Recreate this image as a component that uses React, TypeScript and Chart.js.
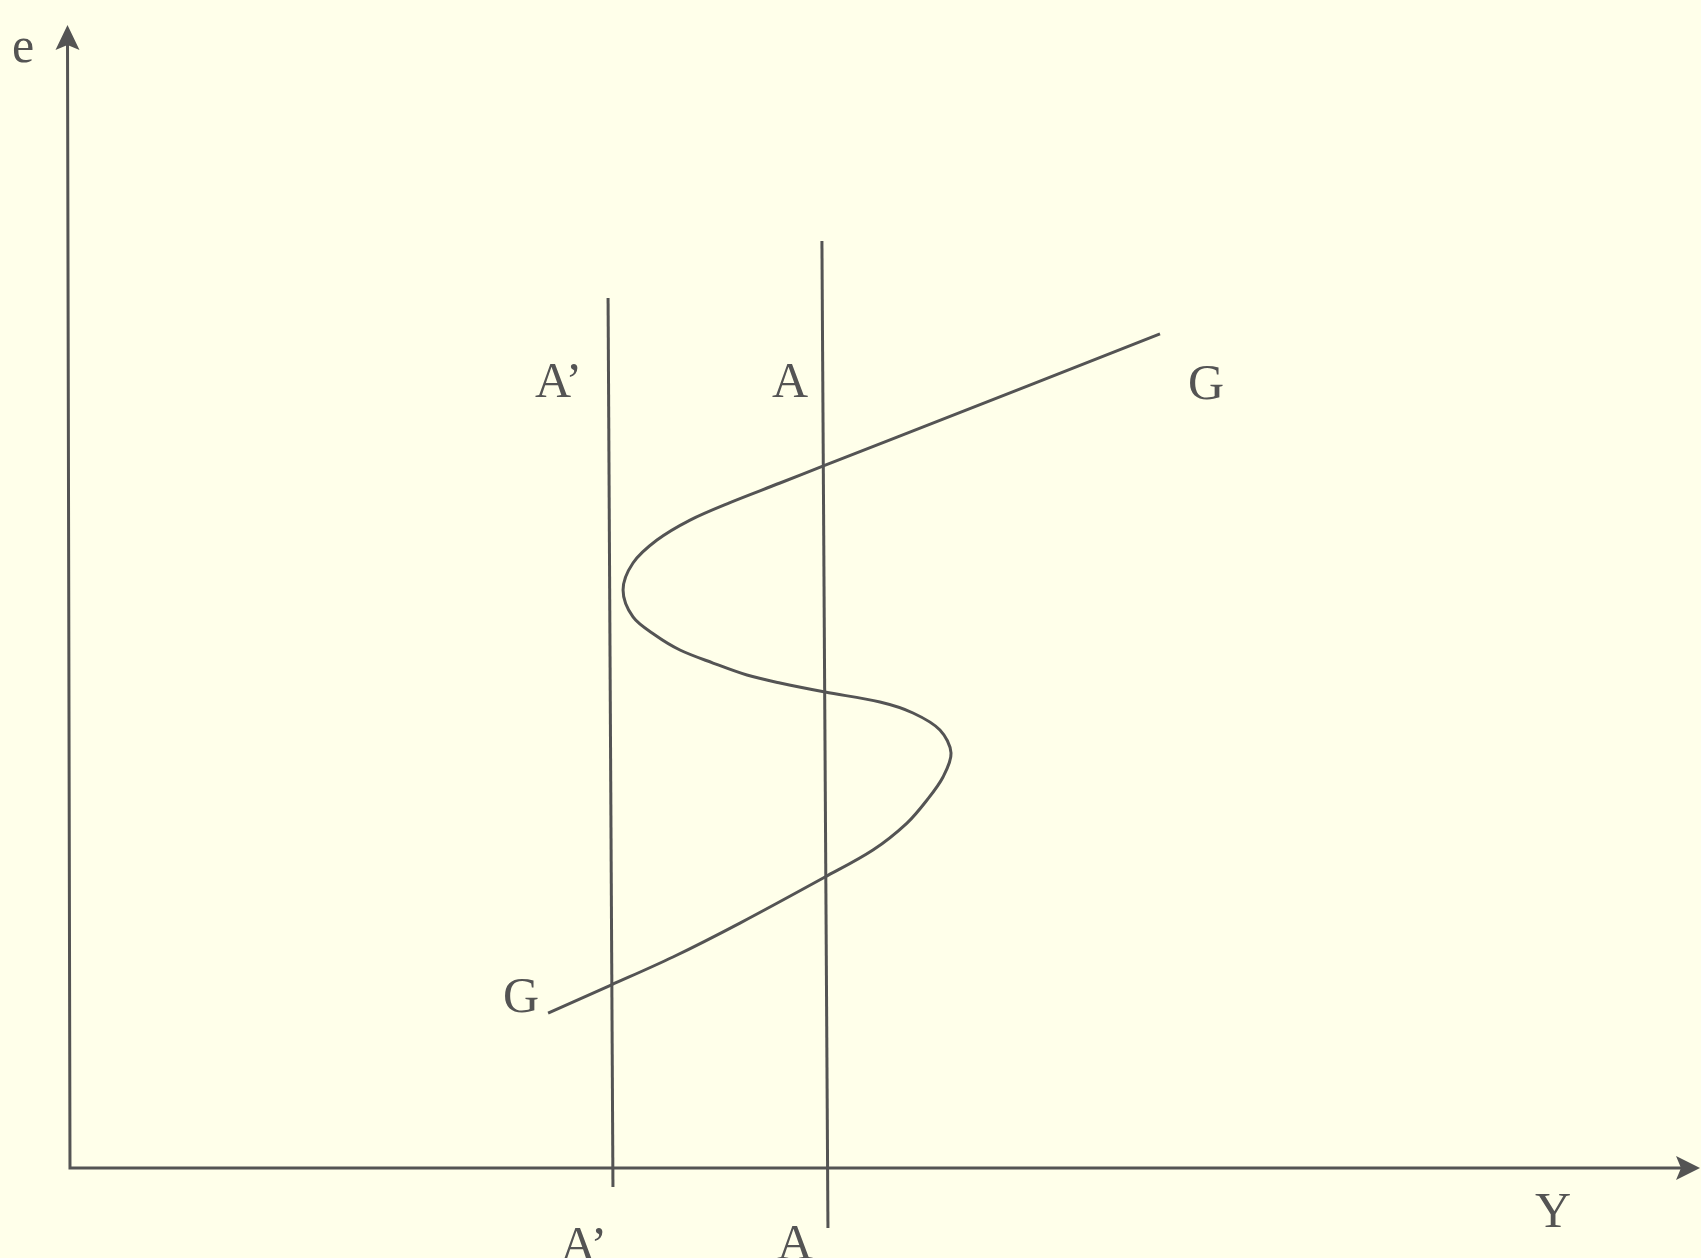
import React, { useEffect, useRef } from "react";
import { Chart, registerables } from "chart.js";

Chart.register(...registerables);

// G curve (S-shaped), output Y on horizontal axis, e on vertical axis
const G_Y = [29.33, 33.19, 36.99, 41.1, 46.32, 49.26, 51.35, 52.58, 53.56, 54.05, 53.37, 51.72, 49.69, 46.32, 43.56, 41.53, 39.45, 37.42, 35.89, 34.54, 33.93, 34.54, 36.01, 38.04, 40.49, 43.56, 46.26, 50.74, 66.87];
const G_E = [13.56, 16.01, 18.46, 21.43, 25.46, 27.82, 30.18, 32.2, 34.21, 36.31, 38.32, 39.81, 40.77, 41.64, 42.43, 43.13, 44.18, 45.32, 46.63, 48.21, 50.57, 52.93, 54.94, 56.69, 58.22, 59.93, 61.46, 63.95, 72.97];

// Vertical schedules A' and A
const A_PRIME_Y = [33.31, 33.01];
const A_PRIME_E = [-1.66, 76.12];
const A_Y = [46.5, 46.13];
const A_E = [-5.25, 81.1];

// Axis extents
const AXIS_MAX_Y = 100;
const AXIS_MAX_E = 100;

// Text labels
const LABEL_TEXT = ["e", "A\u2019", "A", "G", "G", "A\u2019", "A", "Y"];
const LABEL_AT_Y = [-3.56, 28.53, 43.07, 68.59, 26.56, 30.06, 43.37, 89.88];
const LABEL_AT_E = [96.76, 67.45, 67.45, 67.28, 13.65, -8.14, -7.96, -5.16];

const INK = "rgb(84,84,84)";
const BG = "rgb(255,255,234)";

const toPts = (xs: number[], ys: number[]) => xs.map((x, i) => ({ x, y: ys[i] }));

export default function App() {
  const ref = useRef<HTMLCanvasElement | null>(null);

  useEffect(() => {
    document.body.style.margin = "0";
    const canvas = ref.current;
    if (!canvas) return;

    const deco = {
      id: "deco",
      beforeDraw(chart: any) {
        const c = chart.ctx;
        c.save();
        c.fillStyle = BG;
        c.fillRect(0, 0, chart.width, chart.height);
        c.restore();
      },
      beforeDatasetsDraw(chart: any) {
        const c = chart.ctx;
        const sx = chart.scales.x;
        const sy = chart.scales.y;
        const x0 = sx.getPixelForValue(0);
        const y0 = sy.getPixelForValue(0);
        const xEnd = sx.getPixelForValue(AXIS_MAX_Y);
        const yEnd = sy.getPixelForValue(AXIS_MAX_E);
        c.save();
        c.strokeStyle = INK;
        c.fillStyle = INK;
        c.lineWidth = 3;
        c.beginPath();
        c.moveTo(x0, y0 + 1.5);
        c.lineTo(x0 - 2.5, yEnd + 10);
        c.moveTo(x0 - 1.5, y0);
        c.lineTo(xEnd - 10, y0);
        c.stroke();
        // y arrow
        const ax = x0 - 2.5;
        c.beginPath();
        c.moveTo(ax, yEnd);
        c.lineTo(ax + 12, yEnd + 25);
        c.lineTo(ax, yEnd + 20);
        c.lineTo(ax - 12, yEnd + 25);
        c.closePath();
        c.fill();
        // x arrow
        c.beginPath();
        c.moveTo(xEnd, y0);
        c.lineTo(xEnd - 24, y0 - 12);
        c.lineTo(xEnd - 19, y0);
        c.lineTo(xEnd - 24, y0 + 12);
        c.closePath();
        c.fill();
        c.restore();
      },
      afterDatasetsDraw(chart: any) {
        const c = chart.ctx;
        const sx = chart.scales.x;
        const sy = chart.scales.y;
        c.save();
        c.fillStyle = INK;
        c.font = '50px "Liberation Serif", "DejaVu Serif", serif';
        c.textAlign = "left";
        c.textBaseline = "alphabetic";
        LABEL_TEXT.forEach((t, i) => {
          c.fillText(t, sx.getPixelForValue(LABEL_AT_Y[i]), sy.getPixelForValue(LABEL_AT_E[i]));
        });
        c.restore();
      },
    };

    const chart = new Chart(canvas, {
      type: "scatter",
      data: {
        datasets: [
          {
            label: "G",
            data: toPts(G_Y, G_E),
            showLine: true,
            borderColor: INK,
            borderWidth: 3,
            pointRadius: 0,
            tension: 0.33,
            fill: false,
          },
          {
            label: "A'",
            data: toPts(A_PRIME_Y, A_PRIME_E),
            showLine: true,
            borderColor: INK,
            borderWidth: 3,
            pointRadius: 0,
            tension: 0,
          },
          {
            label: "A",
            data: toPts(A_Y, A_E),
            showLine: true,
            borderColor: INK,
            borderWidth: 3,
            pointRadius: 0,
            tension: 0,
          },
        ],
      },
      options: {
        animation: false,
        responsive: false,
        devicePixelRatio: 1,
        layout: { padding: 0 },
        plugins: { legend: { display: false }, tooltip: { enabled: false } },
        events: [],
        scales: {
          x: { type: "linear", display: false, min: -4.294, max: 100.06 },
          y: { type: "linear", display: false, min: -7.874, max: 102.19 },
        },
      } as any,
      plugins: [deco],
    });

    return () => chart.destroy();
  }, []);

  return (
    <div style={{ position: "fixed", left: 0, top: 0, width: 1701, height: 1258, background: BG }}>
      <canvas ref={ref} width={1701} height={1258} style={{ display: "block", width: 1701, height: 1258 }} />
    </div>
  );
}
